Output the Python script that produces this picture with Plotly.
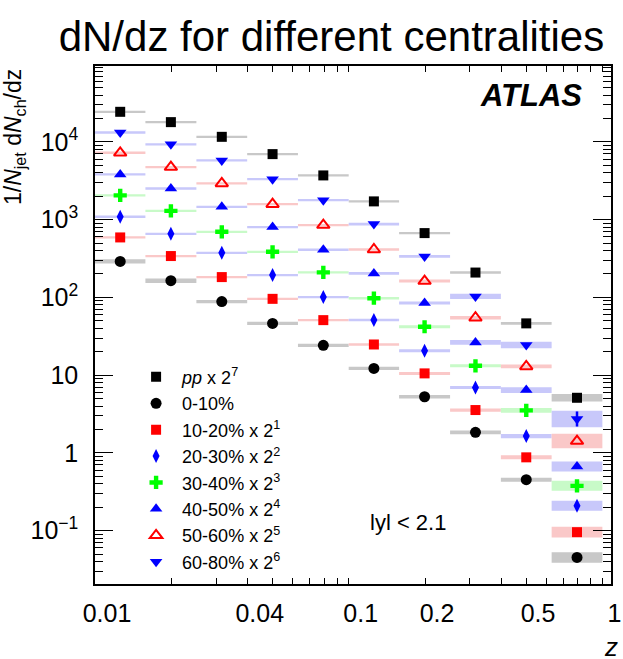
import numpy as np
import plotly.graph_objects as go

# z bin edges (log-uniform from 0.01 to 1)
z_edges = [0.01, 0.0158, 0.0251, 0.0398, 0.0631, 0.1, 0.158, 0.251, 0.398, 0.631, 1.0]

# 1/N_jet dN_ch/dz per z bin, before the 2^k offsets used for display
pp     = [190, 140, 90.6, 54.3, 28.9, 13.4, 5.24, 1.63, 0.362, 0.0400]
c0_10  = [290, 164, 88.3, 46.3, 24.2, 12.2, 5.28, 1.84, 0.453, 0.0453]
c10_20 = [295, 170, 91.2, 47.9, 25.5, 12.4, 5.27, 1.78, 0.439, 0.0479]
c20_30 = [272, 164, 93.6, 48.4, 25.2, 12.8, 5.15, 1.74, 0.412, 0.0524]
c30_40 = [256, 162, 87.1, 48.2, 26.2, 12.2, 5.24, 1.65, 0.441, 0.0472]
c40_50 = [238, 157, 91.3, 50.1, 25.6, 12.7, 5.31, 1.65, 0.402, 0.0418]
c50_60 = [226, 148, 91.2, 49.4, 26.6, 12.9, 5.06, 1.71, 0.405, 0.0444]
c60_80 = [206, 145, 90.1, 51.8, 27.8, 13.7, 5.26, 1.61, 0.381, 0.0427]

# relative systematic uncertainties (shaded boxes)
sys_pp     = [0.035, 0.035, 0.035, 0.035, 0.035, 0.035, 0.035, 0.036, 0.040, 0.116]
sys_c0_10  = [0.067, 0.070, 0.050, 0.050, 0.050, 0.050, 0.050, 0.055, 0.060, 0.170]
sys_c10_20 = [0.035, 0.035, 0.035, 0.035, 0.035, 0.040, 0.045, 0.050, 0.060, 0.170]
sys_c20_30 = [0.035, 0.035, 0.035, 0.035, 0.035, 0.040, 0.045, 0.045, 0.065, 0.160]
sys_c30_40 = [0.035, 0.035, 0.035, 0.035, 0.035, 0.040, 0.045, 0.045, 0.075, 0.160]
sys_c40_50 = [0.035, 0.035, 0.035, 0.035, 0.035, 0.040, 0.045, 0.070, 0.090, 0.160]
sys_c50_60 = [0.035, 0.035, 0.035, 0.035, 0.035, 0.040, 0.045, 0.050, 0.055, 0.240]
sys_c60_80 = [0.035, 0.035, 0.035, 0.035, 0.035, 0.040, 0.045, 0.077, 0.100, 0.280]

# relative statistical uncertainty of the peripheral sample
stat_c60_80 = [0, 0, 0, 0, 0, 0, 0, 0, 0, 0.25]

# display offsets (powers of two)
scale_pow = [7, 0, 1, 2, 3, 4, 5, 6]

labels = ["<i>pp</i> x 2<sup>7</sup>", "0-10%", "10-20% x 2<sup>1</sup>",
          "20-30% x 2<sup>2</sup>", "30-40% x 2<sup>3</sup>", "40-50% x 2<sup>4</sup>",
          "50-60% x 2<sup>5</sup>", "60-80% x 2<sup>6</sup>"]

values = [pp, c0_10, c10_20, c20_30, c30_40, c40_50, c50_60, c60_80]
systs = [sys_pp, sys_c0_10, sys_c10_20, sys_c20_30, sys_c30_40, sys_c40_50, sys_c50_60, sys_c60_80]

GREY = "rgb(200,200,200)"
PINK = "rgb(250,200,200)"
LBLUE = "rgb(200,200,250)"
LGREEN = "rgb(200,250,200)"

styles = [
    dict(symbol="square", size=10, color="black", band=GREY),
    dict(symbol="circle", size=11, color="black", band=GREY),
    dict(symbol="square", size=10, color="red", band=PINK),
    dict(symbol="diamond-tall", size=10, color="blue", band=LBLUE),
    dict(symbol="cross", size=11, color="#00ff00", band=LGREEN),
    dict(symbol="triangle-up", size=11, color="blue", band=LBLUE),
    dict(symbol="triangle-up-open", size=11, color="red", band=PINK),
    dict(symbol="triangle-down", size=11, color="blue", band=LBLUE),
]

edges = np.array(z_edges)
z_centers = np.sqrt(edges[:-1] * edges[1:])

fig = go.Figure()

# systematic boxes
for vals, sys, p, st in zip(values, systs, scale_pow, styles):
    v = np.array(vals) * 2.0 ** p
    s = np.array(sys)
    xs, ys = [], []
    for i in range(len(v)):
        lo, hi = v[i] / (1 + s[i]), v[i] * (1 + s[i])
        xs += [edges[i], edges[i + 1], edges[i + 1], edges[i], edges[i], None]
        ys += [lo, lo, hi, hi, lo, None]
    fig.add_trace(go.Scatter(x=xs, y=ys, mode="lines", fill="toself",
                             fillcolor=st["band"], line=dict(width=0),
                             showlegend=False, hoverinfo="skip"))

# data points
for k, (vals, p, st, lab) in enumerate(zip(values, scale_pow, styles, labels)):
    v = np.array(vals) * 2.0 ** p
    marker = dict(symbol=st["symbol"], size=st["size"], color=st["color"])
    if st["symbol"].endswith("open"):
        marker["line"] = dict(color=st["color"], width=2)
    err = None
    if k == 7:
        err = dict(type="data", array=v * np.array(stat_c60_80),
                   arrayminus=v * np.array(stat_c60_80) / (1 + np.array(stat_c60_80)),
                   color=st["color"], thickness=2.5, width=0)
    fig.add_trace(go.Scatter(x=z_centers, y=v, mode="markers", marker=marker,
                             error_y=err, name=lab))

FONT = "Liberation Sans, Arial, Helvetica, sans-serif"
xr = [-2, 0.034]
yr = [-1.685, 4.975]

x_minor = [a * 10.0 ** e for e in (-2, -1) for a in range(2, 10)]
y_minor = [a * 10.0 ** e for e in range(-2, 5) for a in range(2, 10)]

fig.update_layout(
    width=623, height=659,
    margin=dict(l=95, r=12, t=66, b=75, autoexpand=False),
    paper_bgcolor="white", plot_bgcolor="white",
    font=dict(family=FONT, color="black"),
    title=dict(text="dN/dz for different centralities", x=0.532, xanchor="center",
               y=1 - 36 / 659, yanchor="middle", font=dict(size=42, family=FONT)),
    xaxis=dict(type="log", range=xr, showgrid=False, zeroline=False,
               showline=True, linecolor="black", linewidth=1.5, mirror="ticks",
               ticks="inside", ticklen=6.5, tickwidth=1.2, tickcolor="black",
               tickvals=[0.01, 0.04, 0.1, 0.2, 0.5, 1],
               ticktext=["0.01", "0.04", "0.1", "0.2", "0.5", "1"],
               tickfont=dict(size=25), ticklabelshift=12, ticklabelstandoff=6,
               minor=dict(tickvals=x_minor, ticks="inside", ticklen=6.5,
                          tickwidth=1.2, tickcolor="black", showgrid=False)),
    xaxis2=dict(type="log", range=xr, overlaying="x", anchor="y", side="bottom",
                showgrid=False, zeroline=False, showline=False,
                ticks="inside", ticklen=13, tickwidth=1.2, tickcolor="black",
                tickvals=[0.1, 1], showticklabels=False, mirror="ticks"),
    yaxis=dict(type="log", range=yr, showgrid=False, zeroline=False,
               showline=True, linecolor="black", linewidth=1.5, mirror="ticks",
               ticks="inside", ticklen=18, tickwidth=1.2, tickcolor="black",
               tickvals=[0.1, 1, 10, 100, 1000, 10000],
               ticktext=["10<sup>\u22121</sup>", "1", "10", "10<sup>2</sup>",
                         "10<sup>3</sup>", "10<sup>4</sup>"],
               tickfont=dict(size=25), ticklabelstandoff=10,
               minor=dict(tickvals=y_minor, ticks="inside", ticklen=8,
                          tickwidth=1.2, tickcolor="black", showgrid=False)),
    legend=dict(x=0.068, y=0.435, xanchor="left", yanchor="top",
                bgcolor="rgba(0,0,0,0)", borderwidth=0, itemwidth=42,
                font=dict(size=18, family=FONT)),
    annotations=[
        dict(text="<b><i>ATLAS</i></b>", xref="paper", yref="paper", x=0.948, y=0.944,
             xanchor="right", yanchor="middle", showarrow=False,
             font=dict(size=31, family=FONT)),
        dict(text="lyl < 2.1", xref="paper", yref="paper", x=0.529, y=0.118,
             xanchor="left", yanchor="middle", showarrow=False,
             font=dict(size=22, family=FONT)),
        dict(text="<i>z</i>", xref="paper", yref="paper", x=1.0, y=-0.122,
             xanchor="center", yanchor="middle", showarrow=False,
             font=dict(size=26, family=FONT)),
        dict(text="1/<i>N</i><sub>jet</sub> d<i>N</i><sub>ch</sub>/dz", textangle=-90,
             xref="paper", yref="paper", x=-0.157, y=0.998,
             xanchor="center", yanchor="top", showarrow=False,
             font=dict(size=23, family=FONT)),
    ],
)

fig.write_html("out.html")
